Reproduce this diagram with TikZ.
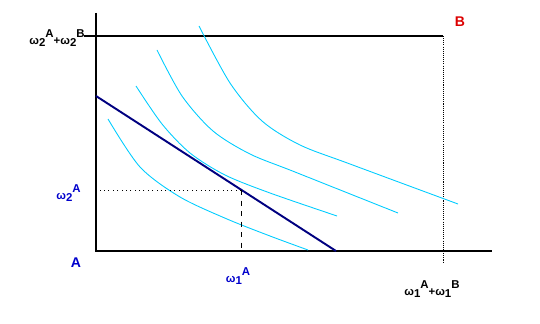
\documentclass[tikz,border=0pt]{standalone}
\usepackage{fontspec}
\setmainfont{Liberation Sans}
\usetikzlibrary{positioning,calc}
\definecolor{icblue}{RGB}{0,204,255}
\definecolor{budget}{RGB}{0,0,128}
\definecolor{lblblue}{RGB}{0,0,204}
\definecolor{lblred}{RGB}{220,0,0}
\newcommand{\omg}[2]{ω\raisebox{-0.35ex}{#1}\raisebox{1.2ex}{#2}}
\tikzset{
  axis/.style={line width=0.6pt},
  indiff/.style={icblue, line width=0.5pt},
  lbl/.style={font=\fontsize{6.5}{7}\selectfont\bfseries, inner sep=0pt},
  corner/.style={font=\fontsize{8}{9}\selectfont\bfseries, inner sep=0pt},
}

\begin{document}
\begin{tikzpicture}[x=0.02cm,y=-0.02cm]
        \useasboundingbox (0,0) rectangle (540,324);
        \coordinate (O) at (96,251);
        \coordinate (ytop) at (96,13);
        \coordinate (xend) at (492,251);
        \coordinate (Bl) at (84,36);
        \coordinate (B) at (443,36);
        \coordinate (Bx) at (443,263);
        \coordinate (b0) at (96,96);
        \coordinate (b1) at (336,251);
        \coordinate (E) at (241,190);
        % box
        \draw[axis] (ytop) -- (O) -- (xend);
        \draw[axis] (Bl) -- (B);
        \draw[line width=0.5pt, dash pattern=on 0.6pt off 0.6pt] (B) -- (Bx);
        % indifference curves
        \draw[indiff] plot[smooth] coordinates {(108,119) (140,167) (180,197) (227,219) (270,236) (308,250)};
        \draw[indiff] plot[smooth] coordinates {(136,86) (162,124) (190,153) (225,175) (270,193) (337,216)};
        \draw[indiff] plot[smooth] coordinates {(157,50) (182,96) (213,131) (250,154) (295,172) (398,213)};
        \draw[indiff] plot[smooth] coordinates {(199,26) (230,83) (262,121) (300,145) (350,164) (458,204)};
        % budget line
        \draw[budget, line width=1.1pt] (b0) -- (b1);
        \draw[line width=0.5pt, dotted] (E) -- (E -| O);
        \draw[line width=0.5pt, dashed] (E) -- (E |- O);
        % labels
        \node[lbl, anchor=east] (tot2) at (85,38) {\omg{2}{A}+\omg{2}{B}};
        \node[corner, lblred] (labB) at (460,22) {B};
        \node[corner, lblblue] (labA) at (76,263) {A};
        \node[lbl, lblblue, anchor=east] (w2A) at (81,193) {\omg{2}{A}};
        \node[lbl, lblblue] (w1A) at (238,276) {\omg{1}{A}};
        \node[lbl] (tot1) at (432,289) {\omg{1}{A}+\omg{1}{B}};
\end{tikzpicture}
\end{document}
